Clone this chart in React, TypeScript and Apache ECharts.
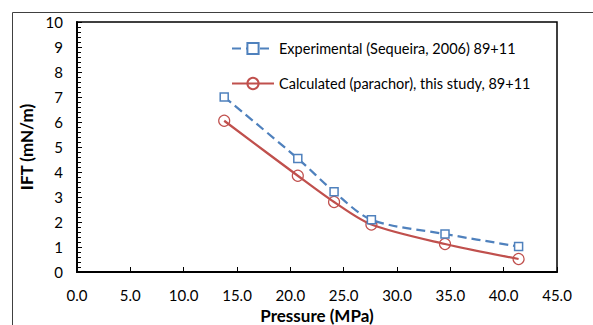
import React, { useEffect, useRef } from "react";
import * as echarts from "echarts";

const pressure = [13.8, 20.7, 24.1, 27.6, 34.5, 41.4];
const experimental = [7.0, 4.54, 3.21, 2.09, 1.52, 1.02];
const calculated = [6.05, 3.85, 2.8, 1.9, 1.12, 0.52];
const seriesNames = [
  "Experimental (Sequeira, 2006) 89+11",
  "Calculated (parachor), this study, 89+11",
];

const FONT = "Lato";

export default function App() {
  const ref = useRef<HTMLDivElement>(null);
  useEffect(() => {
    if (!ref.current) return;
    const chart = echarts.init(ref.current, null, { renderer: "svg" });
    chart.setOption({
      animation: false,
      backgroundColor: "#ffffff",
      textStyle: { fontFamily: FONT },
      graphic: [
        {
          type: "rect",
          shape: { x: 12.5, y: 12.5, width: 700, height: 500 },
          style: { fill: "none", stroke: "#404040", lineWidth: 1 },
          silent: true,
        },
      ],
      grid: {
        left: 77,
        right: 36,
        top: 22,
        bottom: 53,
        show: true,
        borderColor: "#000",
        borderWidth: 1.5,
        containLabel: false,
        outerBoundsMode: "none",
      },
      legend: {
        orient: "vertical",
        left: 226,
        top: 36,
        itemWidth: 42,
        itemHeight: 14,
        itemGap: 20,
        textStyle: { fontFamily: FONT, fontSize: 14.5, color: "#000" },
        data: seriesNames,
      },
      xAxis: {
        type: "value",
        min: 0,
        max: 45,
        interval: 5,
        name: "Pressure (MPa)",
        nameLocation: "middle",
        nameGap: 32,
        nameTextStyle: { fontFamily: FONT, fontSize: 17, fontWeight: "bold", color: "#000" },
        axisLine: { show: true, lineStyle: { color: "#000", width: 2 } },
        axisTick: { show: true, inside: true, length: 5, lineStyle: { color: "#000", width: 1 } },
        axisLabel: {
          color: "#000",
          fontSize: 15,
          margin: 15,
          formatter: (v: number) => v.toFixed(1),
        },
        splitLine: { show: false },
      },
      yAxis: {
        type: "value",
        min: 0,
        max: 10,
        interval: 1,
        name: "IFT (mN/m)",
        nameLocation: "middle",
        nameGap: 33,
        nameTextStyle: { fontFamily: FONT, fontSize: 17, fontWeight: "bold", color: "#000" },
        axisLine: { show: true, lineStyle: { color: "#000", width: 2 } },
        axisTick: { show: true, inside: true, length: 5, lineStyle: { color: "#000", width: 1 } },
        minorTick: { show: true, splitNumber: 5, length: 4, lineStyle: { color: "#000", width: 1 } },
        axisLabel: { color: "#000", fontSize: 15, margin: 14 },
        splitLine: { show: false },
      },
      series: [
        {
          name: seriesNames[0],
          type: "line",
          smooth: 0.3,
          data: pressure.map((p, i) => [p, experimental[i]]),
          symbol: "rect",
          symbolSize: 8,
          showAllSymbol: true,
          lineStyle: { color: "#4F81BD", width: 2.25, type: [9, 5] },
          itemStyle: { color: "#ffffff", borderColor: "#4F81BD", borderWidth: 1.5 },
          z: 3,
        },
        {
          name: seriesNames[1],
          type: "line",
          smooth: 0.3,
          data: pressure.map((p, i) => [p, calculated[i]]),
          symbol: "circle",
          symbolSize: 11,
          showAllSymbol: true,
          lineStyle: { color: "#C0504D", width: 2.25 },
          itemStyle: { color: "rgba(255,255,255,0)", borderColor: "#C0504D", borderWidth: 1.2 },
          z: 2,
        },
      ],
    });
    return () => chart.dispose();
  }, []);
  return (
    <div
      ref={ref}
      style={{ position: "fixed", left: 0, top: 0, width: 593, height: 325 }}
    />
  );
}
